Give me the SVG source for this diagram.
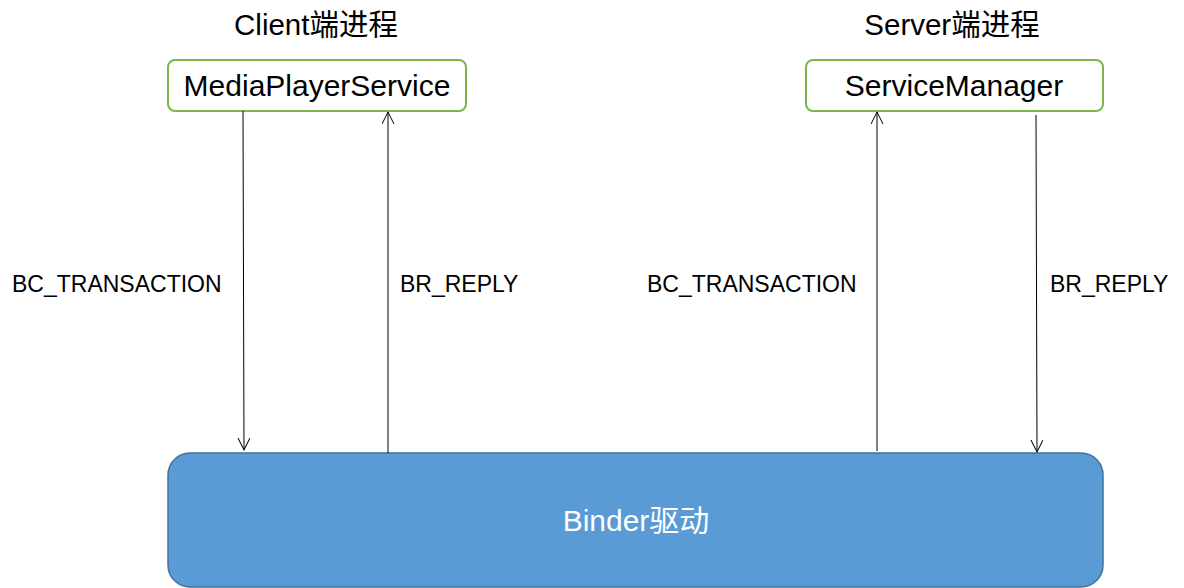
<svg xmlns="http://www.w3.org/2000/svg" width="1184" height="588" viewBox="0 0 1184 588">
<style>
.t{font-family:"Liberation Sans","Noto Sans CJK SC",sans-serif;fill:#000}
.box{fill:#fff;stroke:#7AB648;stroke-width:2}
.lbl{font-family:"Liberation Sans",sans-serif;font-size:23px;fill:#000}
.c{stroke:#000;stroke-width:1;fill:none;marker-end:url(#ah)}
</style>
<defs>
<marker id="ah" markerWidth="14" markerHeight="14" refX="12" refY="6" orient="auto" markerUnits="userSpaceOnUse">
<path d="M0,0 L12,6 L0,12" fill="none" stroke="#000" stroke-width="1"/>
</marker>
</defs>
<text class="t" x="316" y="35" font-size="29.5" text-anchor="middle">Client端进程</text>
<text class="t" x="952" y="35" font-size="29.5" text-anchor="middle">Server端进程</text>
<g id="mps">
<rect class="box" x="168" y="60" width="298" height="51" rx="7"/>
<text class="t" x="317" y="96" font-size="30" text-anchor="middle">MediaPlayerService</text>
</g>
<g id="sm">
<rect class="box" x="806" y="60" width="297" height="51" rx="7"/>
<text class="t" x="954" y="96" font-size="30" text-anchor="middle">ServiceManager</text>
</g>
<g id="binder">
<rect x="168" y="453" width="935" height="134" rx="22" fill="#5B9BD5" stroke="#41719C" stroke-width="1.5"/>
<text x="636" y="531" font-size="30" text-anchor="middle" fill="#fff" font-family="Liberation Sans,Noto Sans CJK SC,sans-serif">Binder驱动</text>
</g>
<g id="connectors">
<line class="c" x1="243" y1="111" x2="244" y2="450"/>
<line class="c" x1="388" y1="453" x2="388" y2="112"/>
<line class="c" x1="877" y1="451" x2="877" y2="112"/>
<line class="c" x1="1036" y1="115" x2="1037" y2="452"/>
<text class="lbl" x="12" y="292">BC_TRANSACTION</text>
<text class="lbl" x="400" y="292">BR_REPLY</text>
<text class="lbl" x="647" y="292">BC_TRANSACTION</text>
<text class="lbl" x="1050" y="292">BR_REPLY</text>
</g>
</svg>
